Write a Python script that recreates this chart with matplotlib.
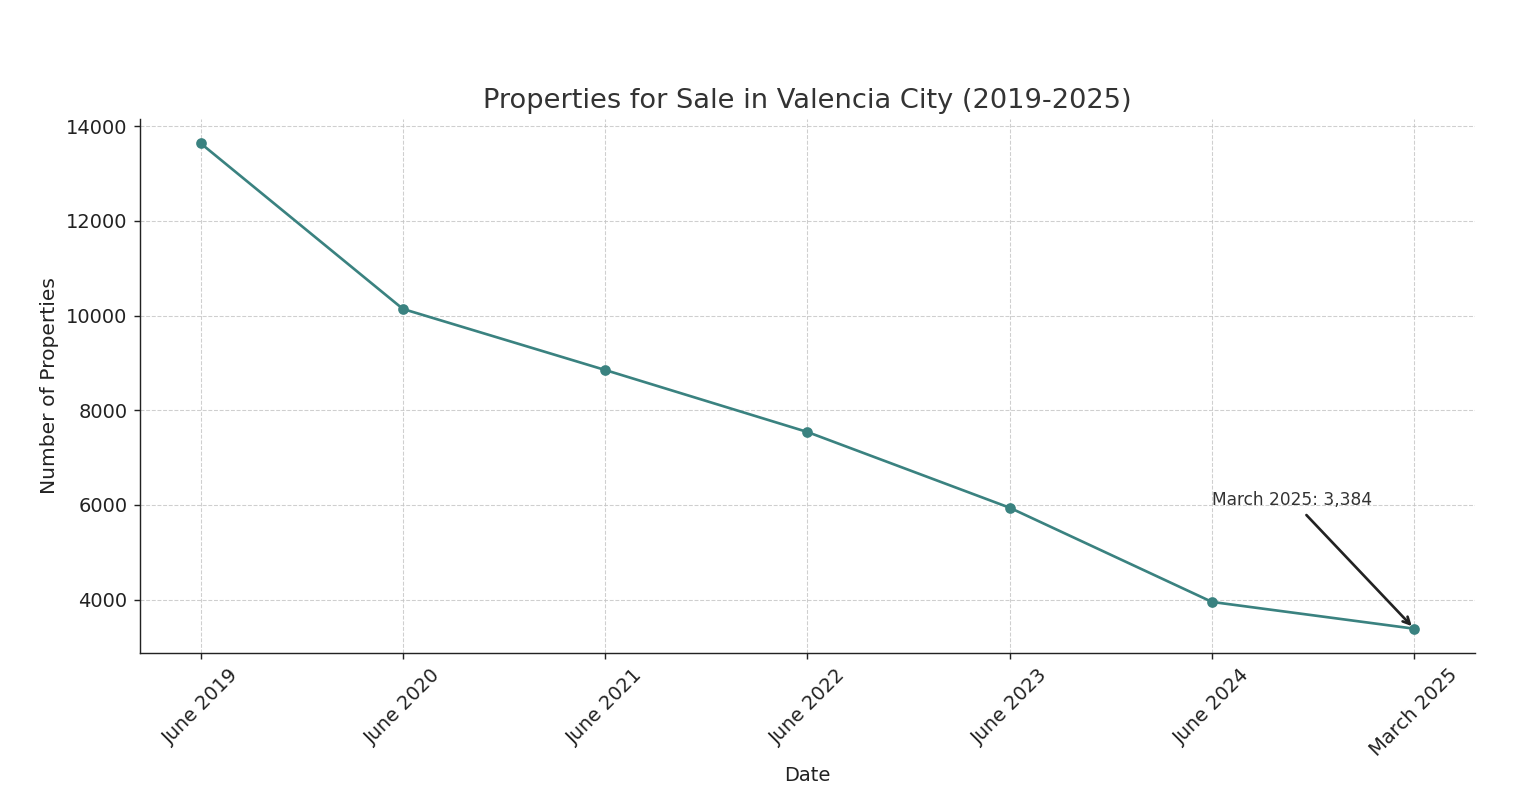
import matplotlib
matplotlib.use("Agg")
import matplotlib.pyplot as plt

dates = ["June 2019", "June 2020", "June 2021", "June 2022",
         "June 2023", "June 2024", "March 2025"]
properties = [13640, 10140, 8850, 7540, 5940, 3950, 3384]

plt.rcParams.update({
    "font.family": "DejaVu Sans",
    "text.color": "#333333",
    "axes.labelcolor": "#222222",
    "xtick.color": "#222222",
    "ytick.color": "#222222",
})

fig, ax = plt.subplots(figsize=(1538 / 128, 802 / 128), dpi=128)
fig.subplots_adjust(left=0.091, right=0.959, top=0.8516, bottom=0.1858)

ax.plot(dates, properties, marker="o", linestyle="-", color="#3a8280",
        linewidth=1.5, markersize=5)

ax.set_title("Properties for Sale in Valencia City (2019-2025)", fontsize=15.3, color="#333333")
ax.set_xlabel("Date", fontsize=11, labelpad=3)
ax.set_ylabel("Number of Properties", fontsize=11.4)

ax.tick_params(axis="x", rotation=45, labelsize=11)
ax.tick_params(axis="y", labelsize=11)

ax.grid(True, linestyle="--", linewidth=0.6, color="#c4c4c4", alpha=0.8)
ax.spines["top"].set_visible(False)
ax.spines["right"].set_visible(False)
ax.spines["left"].set_color("#222222")
ax.spines["bottom"].set_color("#222222")

last = len(dates) - 1
ax.annotate(f"{dates[last]}: {properties[last]:,}",
            xy=(last, properties[last]), xytext=(last - 1, 6000),
            fontsize=9.6, color="#333333",
            arrowprops=dict(arrowstyle="->", color="#222222", lw=1.5))

fig.savefig("out.png", dpi=128)
